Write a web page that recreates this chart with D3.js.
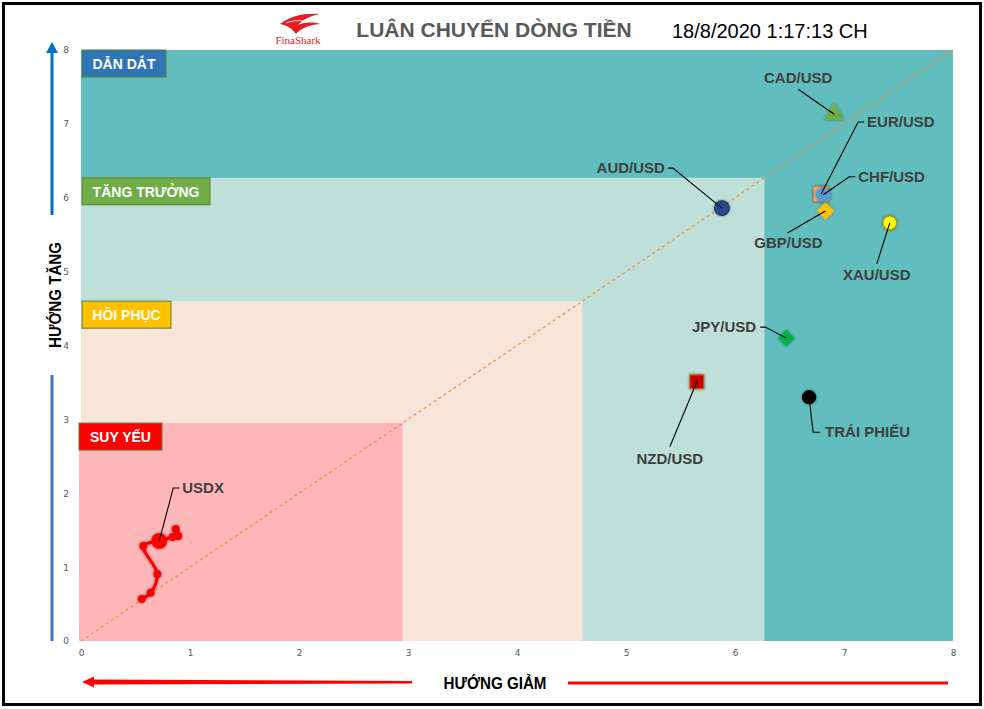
<!DOCTYPE html>
<html>
<head>
<meta charset="utf-8">
<script src="https://cdn.jsdelivr.net/npm/d3@7"></script>
<style>
  html, body { margin: 0; padding: 0; background: #fff; }
  svg { display: block; font-family: "Liberation Sans", Arial, sans-serif; }
</style>
</head>
<body>
<svg id="chart" width="984" height="709"></svg>
<script>
// ---------- DATA ----------
const titleText = "LUÂN CHUYỂN DÒNG TIỀN";
const dateText = "18/8/2020 1:17:13 CH";
const xTickValues = [0, 1, 2, 3, 4, 5, 6, 7, 8];
const yTickValues = [0, 1, 2, 3, 4, 5, 6, 7, 8];
const phaseNames = ["SUY YẾU", "HỒI PHỤC", "TĂNG TRƯỞNG", "DẪN DẮT"];
const phaseLimits = [2.95, 4.6, 6.27, 8];
const assetNames = ["CAD/USD", "EUR/USD", "CHF/USD", "GBP/USD", "XAU/USD", "AUD/USD", "JPY/USD", "NZD/USD", "TRÁI PHIẾU"];
const assetX = [6.91, 6.79, 6.81, 6.83, 7.42, 5.88, 6.47, 5.65, 6.68];
const assetY = [7.13, 6.05, 6.04, 5.82, 5.66, 5.86, 4.10, 3.51, 3.30];
const usdxName = "USDX";
const usdxX = [0.869, 0.893, 0.841, 0.718, 0.572, 0.700, 0.639, 0.557];
const usdxY = [1.516, 1.421, 1.408, 1.354, 1.286, 0.907, 0.654, 0.569];
const usdxCurrentIndex = 3;

// ---------- STYLE ----------
const phaseFill = ["#FFB6B9", "#F9E4DA", "#BEE0D9", "#62BEBE"];
const phaseBox = [
  {fill: "#FF0000", w: 83},
  {fill: "#FFC000", w: 89},
  {fill: "#70AD47", w: 128},
  {fill: "#2E75B6", w: 84}
];
const markerStyle = {
  "CAD/USD":   {shape: "triangle", size: 140, fill: "#70AD47", stroke: "#70AD47"},
  "EUR/USD":   {shape: "square", size: 220, fill: "#F4B183", stroke: "#ED7D31"},
  "CHF/USD":   {shape: "circle", size: 150, fill: "#5B9BD5", stroke: "#5B9BD5"},
  "GBP/USD":   {shape: "diamond", size: 130, fill: "#FFC000", stroke: "#FFC000"},
  "XAU/USD":   {shape: "circle", size: 150, fill: "#FFFF00", stroke: "#BF9000"},
  "AUD/USD":   {shape: "circle", size: 170, fill: "#2B4A8A", stroke: "#203864"},
  "JPY/USD":   {shape: "diamond", size: 120, fill: "#00B050", stroke: "#00B050"},
  "NZD/USD":   {shape: "square", size: 190, fill: "#C00000", stroke: "#C55A11"},
  "TRÁI PHIẾU":{shape: "circle", size: 135, fill: "#000000", stroke: "#000000"}
};
// label offsets relative to marker centre (pixels)
const labelStyle = {
  "CAD/USD":   {tx: -36, ty: -31, anchor: "middle", pts: [[-36, -25]]},
  "EUR/USD":   {tx: 46, ty: -67, anchor: "start", pts: [[37, -72], [43, -72]]},
  "CHF/USD":   {tx: 35, ty: -13, anchor: "start", pts: [[26, -18], [32, -18]]},
  "GBP/USD":   {tx: -37, ty: 37, anchor: "middle", pts: [[-38, 22]]},
  "XAU/USD":   {tx: -13, ty: 57, anchor: "middle", pts: [[-13, 41]]},
  "AUD/USD":   {tx: -57, ty: -35, anchor: "end", pts: [[-49, -40], [-54, -40]]},
  "JPY/USD":   {tx: -30, ty: -6, anchor: "end", pts: [[-21, -11], [-26, -11]]},
  "NZD/USD":   {tx: -27, ty: 82, anchor: "middle", pts: [[-27, 65]]},
  "TRÁI PHIẾU":{tx: 16, ty: 40, anchor: "start", pts: [[4, 35], [11, 35]]},
  "USDX":      {tx: 23, ty: -48, anchor: "start", pts: [[14, -53], [20, -53]]}
};

// ---------- LAYOUT ----------
const svg = d3.select("#chart");
const padLeft = 81, padRight = 953, padTop = 50, padBottom = 641;
const x = d3.scaleLinear().domain([0, 8]).range([padLeft, padRight]);
const y = d3.scaleLinear().domain([0, 8]).range([padBottom, padTop]);

const defs = svg.append("defs");
const sh = defs.append("filter").attr("id", "shadow").attr("x", "-50%").attr("y", "-50%").attr("width", "200%").attr("height", "200%");
sh.append("feDropShadow").attr("dx", 0).attr("dy", 0).attr("stdDeviation", 1.6).attr("flood-color", "#000").attr("flood-opacity", 0.45);

// frame
svg.append("rect").attr("x", 3.5).attr("y", 3.5).attr("width", 977).attr("height", 701)
  .attr("fill", "#fff").attr("stroke", "#000").attr("stroke-width", 3);

// phase areas (largest first)
for (let i = phaseLimits.length - 1; i >= 0; i--) {
  const v = phaseLimits[i];
  const x0 = i === 0 ? x(0) - 2 : x(0);
  svg.append("rect")
    .attr("x", x0).attr("y", y(v))
    .attr("width", x(v) - x0).attr("height", y(0) - y(v))
    .attr("fill", phaseFill[i]);
}

// diagonal
svg.append("line")
  .attr("x1", x(0)).attr("y1", y(0)).attr("x2", x(8)).attr("y2", y(8))
  .attr("stroke", "#F08A3C").attr("stroke-width", 1.2).attr("stroke-dasharray", "3,3");

// phase boxes
phaseNames.forEach((name, i) => {
  const v = phaseLimits[i];
  const bx = i === 0 ? x(0) - 2 : x(0) + 1;
  const by = y(v);
  const g = svg.append("g");
  g.append("rect").attr("x", bx).attr("y", by).attr("width", phaseBox[i].w).attr("height", 27)
    .attr("fill", phaseBox[i].fill).attr("stroke", "#548235").attr("stroke-width", 1);
  g.append("text").attr("x", bx + phaseBox[i].w / 2).attr("y", by + 19)
    .attr("text-anchor", "middle").attr("fill", "#fff").attr("font-weight", "bold")
    .attr("font-size", 14).text(name);
});

// axes
const xAxis = d3.axisBottom(x).tickValues(xTickValues).tickSize(0).tickPadding(9);
const yAxis = d3.axisLeft(y).tickValues(yTickValues).tickSize(0).tickPadding(9);
const gx = svg.append("g").attr("transform", `translate(0,${padBottom})`).call(xAxis);
const gy = svg.append("g").attr("transform", `translate(${padLeft - 3},0)`).call(yAxis);
[gx, gy].forEach(g => {
  g.select(".domain").remove();
  g.attr("font-family", null).attr("font-size", null);
  g.selectAll("text").style("font-size", "9px").attr("fill", "#595959")
    .style("font-family", "'DejaVu Sans', sans-serif");
});

// USDX tail
const usdx = usdxX.map((v, i) => [x(v), y(usdxY[i])]);
svg.append("path").attr("d", d3.line().curve(d3.curveCatmullRom)(usdx))
  .attr("fill", "none").attr("stroke", "#FF0000").attr("stroke-width", 3)
  .attr("filter", "url(#shadow)");
svg.selectAll(".usdxpt").data(usdx).join("circle")
  .attr("cx", d => d[0]).attr("cy", d => d[1])
  .attr("r", (d, i) => i === usdxCurrentIndex ? 8 : 4)
  .attr("fill", "#FF0000").attr("filter", "url(#shadow)");

// leader lines + labels
function drawLabel(name, px, py, fill) {
  const s = labelStyle[name];
  const pts = [[px, py]].concat(s.pts.map(p => [px + p[0], py + p[1]]));
  svg.append("path").attr("d", d3.line()(pts)).attr("fill", "none")
    .attr("stroke", "#000").attr("stroke-width", 1.1);
  svg.append("text").attr("x", px + s.tx).attr("y", py + s.ty)
    .attr("text-anchor", s.anchor).attr("font-weight", "bold").attr("font-size", 15)
    .attr("fill", fill).text(name);
}

const symbolType = {circle: d3.symbolCircle, square: d3.symbolSquare, triangle: d3.symbolTriangle, diamond: d3.symbolSquare};

assetNames.forEach((name, i) => {
  const st = markerStyle[name];
  const px = x(assetX[i]), py = y(assetY[i]);
  svg.append("path")
    .attr("d", d3.symbol().type(symbolType[st.shape]).size(st.size)())
    .attr("transform", `translate(${px},${py})` + (st.shape === "diamond" ? " rotate(45)" : ""))
    .attr("fill", st.fill).attr("stroke", st.stroke).attr("stroke-width", 1.2)
    .attr("filter", "url(#shadow)");
});
assetNames.forEach((name, i) => {
  drawLabel(name, x(assetX[i]), y(assetY[i]), "#404040");
});
drawLabel(usdxName, usdx[usdxCurrentIndex][0], usdx[usdxCurrentIndex][1], "#404040");

// title
svg.append("text").attr("x", 494).attr("y", 37).attr("text-anchor", "middle")
  .attr("font-size", 21).attr("font-weight", "bold").attr("fill", "#595959").text(titleText);
svg.append("text").attr("x", 672).attr("y", 38).attr("font-size", 20).attr("fill", "#000").text(dateText);

// logo
const logo = svg.append("g").attr("transform", "translate(276,12)");
logo.append("path").attr("d", "M4,12 C14,4 28,1 44,2 C34,4 26,8 22,13 C30,10 38,10 44,12 C32,13 24,17 20,22 C16,16 10,13 4,12 Z")
  .attr("fill", "#E31E24");
logo.append("path").attr("d", "M10,11 C18,8 26,8 32,10").attr("stroke", "#fff").attr("stroke-width", 0.8).attr("fill", "none");
logo.append("text").attr("x", 22).attr("y", 32).attr("text-anchor", "middle")
  .style("font-family", "'Liberation Serif', 'DejaVu Serif', serif").attr("font-size", 11).attr("fill", "#E31E24").text("FinaShark");

// y axis title + arrows
svg.append("text").attr("transform", "translate(61,295) rotate(-90)").attr("text-anchor", "middle")
  .attr("font-weight", "bold").attr("font-size", 17).attr("fill", "#000")
  .attr("textLength", 106).attr("lengthAdjust", "spacingAndGlyphs").text("HƯỚNG TĂNG");
svg.append("line").attr("x1", 52).attr("y1", 215).attr("x2", 52).attr("y2", 52)
  .attr("stroke", "#0070C0").attr("stroke-width", 3);
svg.append("path").attr("d", "M52,42 L46,53 L58,53 Z").attr("fill", "#0070C0");
svg.append("line").attr("x1", 52).attr("y1", 375).attr("x2", 52).attr("y2", 641)
  .attr("stroke", "#4472C4").attr("stroke-width", 3);

// x axis title + arrows
svg.append("text").attr("x", 495).attr("y", 689).attr("text-anchor", "middle")
  .attr("font-weight", "bold").attr("font-size", 17).attr("fill", "#000")
  .attr("textLength", 103).attr("lengthAdjust", "spacingAndGlyphs").text("HƯỚNG GIẢM");
svg.append("path").attr("d", "M412,681 L92,679.5 L92,684.5 L412,683.5 Z").attr("fill", "#FF0000");
svg.append("path").attr("d", "M82,682 L94,676.5 L94,687.5 Z").attr("fill", "#FF0000");
svg.append("line").attr("x1", 568).attr("y1", 683).attr("x2", 948).attr("y2", 683)
  .attr("stroke", "#FF0000").attr("stroke-width", 3);
</script>
</body>
</html>
